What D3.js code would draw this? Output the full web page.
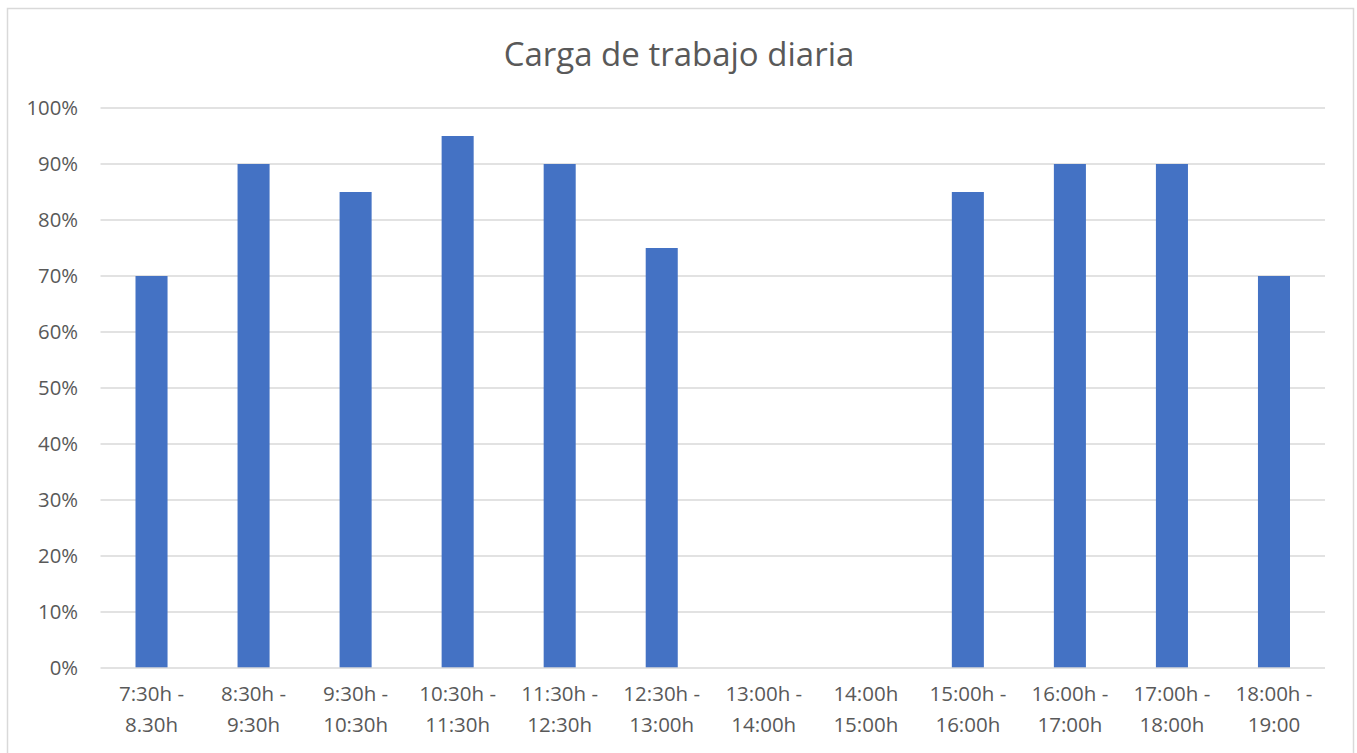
<!DOCTYPE html>
<html><head><meta charset="utf-8">
<script src="https://cdn.jsdelivr.net/npm/d3@7"></script>
<style>html,body{margin:0;padding:0;background:#fff;}svg{display:block;}</style>
</head><body>
<svg id="chart" width="1357" height="753"></svg>
<script>
const categoriesLine1 = ["7:30h -","8:30h -","9:30h -","10:30h -","11:30h -","12:30h -","13:00h -","14:00h","15:00h -","16:00h -","17:00h -","18:00h -"];
const categoriesLine2 = ["8.30h","9:30h","10:30h","11:30h","12:30h","13:00h","14:00h","15:00h","16:00h","17:00h","18:00h","19:00"];
const values = [0.70,0.90,0.85,0.95,0.90,0.75,0,0,0.85,0.90,0.90,0.70];
const yTicks = [0,0.1,0.2,0.3,0.4,0.5,0.6,0.7,0.8,0.9,1.0];
const title = "Carga de trabajo diaria";

const svg = d3.select("#chart");
const font = "'Open Sans', sans-serif";
const textColor = "#595959";
const plotLeft = 100.5, plotRight = 1325, plotTop = 108, plotBottom = 668;

svg.append("rect").attr("x",7.5).attr("y",8.5).attr("width",1346).attr("height",760)
  .attr("fill","#fff").attr("stroke","#d9d9d9").attr("stroke-width",1.5);

const cats = categoriesLine1.map((d,i)=>i);
const x = d3.scaleBand().domain(cats).range([plotLeft,plotRight]).padding(0);
const y = d3.scaleLinear().domain([0,1]).range([plotBottom,plotTop]);

// gridlines
svg.append("g").selectAll("line").data(yTicks.filter(t=>t>0)).join("line")
  .attr("x1",plotLeft).attr("x2",plotRight).attr("y1",d=>y(d)).attr("y2",d=>y(d))
  .attr("stroke","#d9d9d9").attr("stroke-width",1.3);

// y axis labels
const yAxis = d3.axisLeft(y).tickValues(yTicks).tickFormat(d3.format(".0%")).tickSize(0).tickPadding(22.5);
const yg = svg.append("g").attr("transform",`translate(${plotLeft},0)`).call(yAxis);
yg.select(".domain").remove();
yg.selectAll("text").attr("font-family",font).attr("font-size",20.3).attr("fill",textColor);

// bars
const barW = x.bandwidth()*0.314;
svg.append("g").selectAll("rect").data(values).join("rect")
  .attr("x",(d,i)=>x(i)+x.bandwidth()/2-barW/2)
  .attr("width",barW)
  .attr("y",d=>y(d)).attr("height",d=>y(0)-y(d))
  .attr("fill","#4472c4");

// x axis baseline
svg.append("line").attr("x1",plotLeft).attr("x2",plotRight).attr("y1",plotBottom).attr("y2",plotBottom)
  .attr("stroke","#d9d9d9").attr("stroke-width",1.5);

// x labels
const xg = svg.append("g");
cats.forEach(i=>{
  const t = xg.append("text").attr("x",x(i)+x.bandwidth()/2).attr("text-anchor","middle")
    .attr("font-family",font).attr("font-size",20.5).attr("fill",textColor);
  t.append("tspan").attr("x",x(i)+x.bandwidth()/2).attr("y",700.5).text(categoriesLine1[i]);
  t.append("tspan").attr("x",x(i)+x.bandwidth()/2).attr("y",731.5).text(categoriesLine2[i]);
});

svg.append("text").attr("x",679).attr("y",66).attr("text-anchor","middle")
  .attr("font-family",font).attr("font-size",33).attr("fill",textColor).text(title);
</script>
</body></html>
